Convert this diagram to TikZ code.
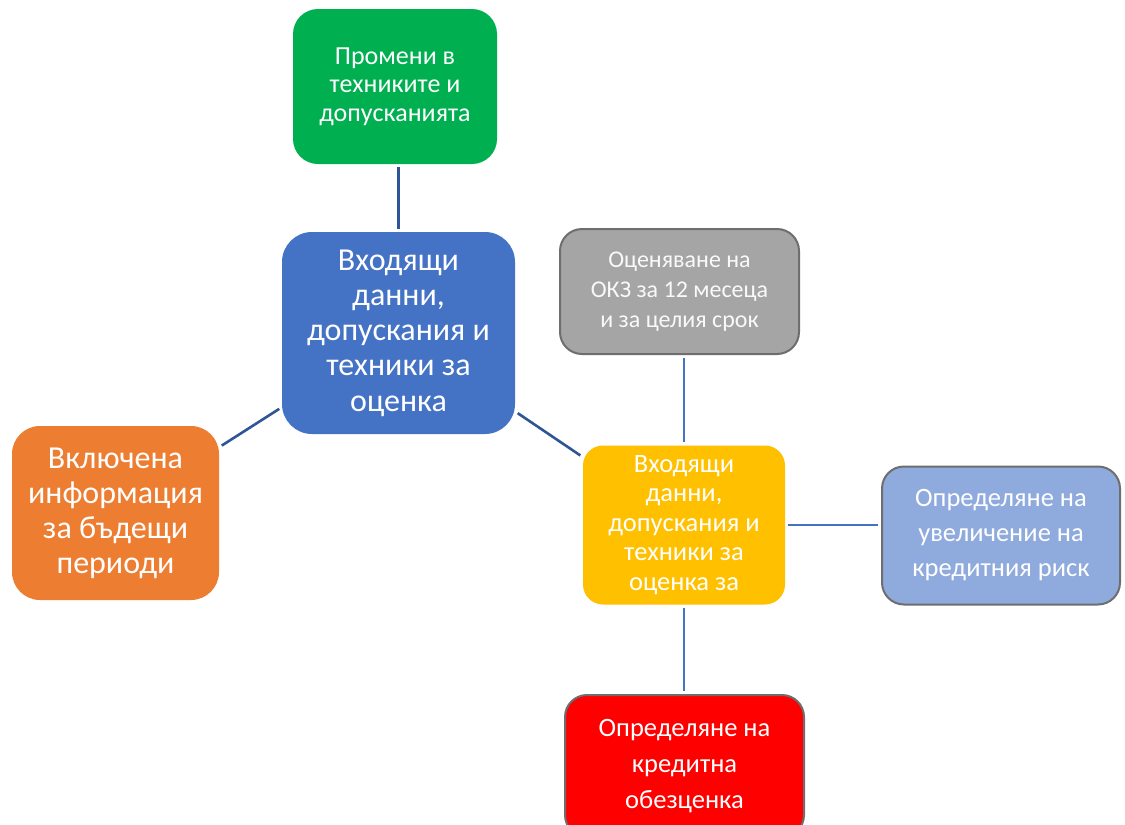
\documentclass[tikz,border=0pt]{standalone}
\usepackage{fontspec}
\setmainfont{Carlito}
\definecolor{cgreen}{HTML}{00B050}
\definecolor{cblue}{HTML}{4472C4}
\definecolor{cgray}{HTML}{A5A5A5}
\definecolor{corange}{HTML}{ED7D31}
\definecolor{cyellow}{HTML}{FFC000}
\definecolor{clblue}{HTML}{8FAADC}
\definecolor{cred}{HTML}{FF0000}
\definecolor{cborder}{HTML}{6E6E6E}
\definecolor{clinedark}{HTML}{2F5597}
\definecolor{cline}{HTML}{4472C4}
\tikzset{
  box/.style={rectangle, text=white, align=center, inner sep=0pt},
  bordered/.style={draw=cborder, line width=2pt},
  conn/.style={line width=2.6pt, shorten <=3pt, shorten >=3pt},
}
\begin{document}
\begin{tikzpicture}[x=1pt,y=-1pt]
\clip (0,0) rectangle (1125,825);
\useasboundingbox (0,0) rectangle (1125,825);
\fill[white] (0,0) rectangle (1125,825);

\node[box, fill=cgreen, rounded corners=25pt, minimum width=204pt, minimum height=155pt,
      font=\fontsize{26}{28.5}\selectfont] (green) at (395,86.5)
      {Промени в\\техниките и\\допусканията};

\node[box, fill=cblue, rounded corners=30pt, minimum width=233pt, minimum height=202pt,
      font=\fontsize{32}{35.2}\selectfont] (blue) at (398.5,333)
      {Входящи\\данни,\\допускания и\\техники за\\оценка};

\node[box, bordered, fill=cgray, rounded corners=22pt, minimum width=239pt, minimum height=125pt,
      text=white!95!gray, font=\fontsize{24}{30}\selectfont] (gray) at (679.5,291.5)
      {Оценяване на\\ОКЗ за 12 месеца\\и за целия срок};

\node[box, fill=corange, rounded corners=28pt, minimum width=207pt, minimum height=174pt,
      font=\fontsize{32}{35}\selectfont] (orange) at (115.5,513)
      {Включена\\информация\\за бъдещи\\периоди};

\node[box, fill=cyellow, rounded corners=20pt, minimum width=202pt, minimum height=159pt,
      font=\fontsize{26.5}{29.5}\selectfont] (yellow) at (684,525)
      {Входящи\\данни,\\допускания и\\техники за\\оценка за};

\node[box, bordered, fill=clblue, rounded corners=22pt, minimum width=238pt, minimum height=138pt,
      font=\fontsize{26.5}{35}\selectfont] (lblue) at (1001,535.5)
      {Определяне на\\увеличение на\\кредитния риск};

\node[box, bordered, fill=cred, rounded corners=22pt, minimum width=239pt, minimum height=142pt,
      font=\fontsize{26.5}{36}\selectfont] (red) at (684.5,766)
      {Определяне на\\кредитна\\обезценка};

\draw[conn, clinedark] (green.south -| blue.north) -- (blue.north);
\draw[conn, clinedark] (blue) -- (orange);
\draw[conn, clinedark] (blue) -- (yellow);
\draw[conn, cline] (gray.south -| yellow.north) -- (yellow.north);
\draw[conn, cline] (yellow.east) -- (yellow.east -| lblue.west);
\draw[conn, cline] (yellow.south) -- (yellow.south |- red.north);
\end{tikzpicture}
\end{document}
